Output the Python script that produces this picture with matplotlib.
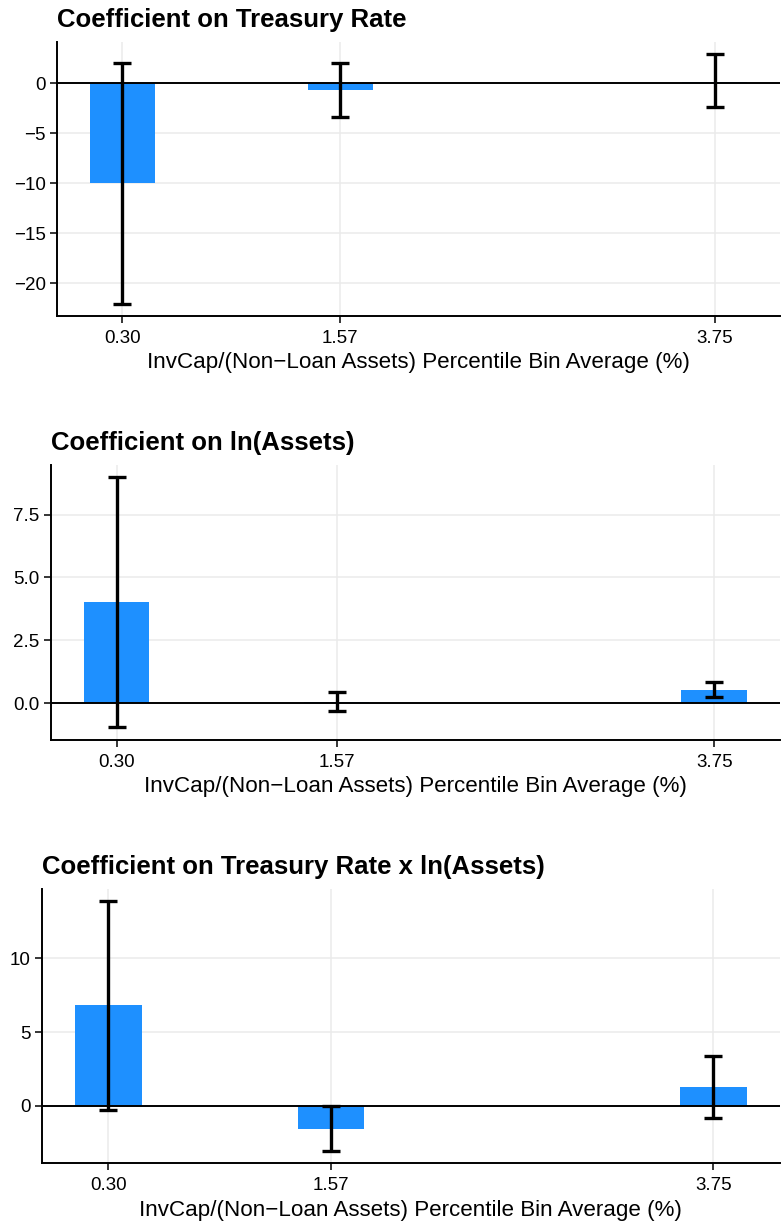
import matplotlib
matplotlib.use("Agg")
import matplotlib.pyplot as plt
import numpy as np

plt.rcParams['font.family'] = ['Liberation Sans', 'DejaVu Sans']

# bin averages (x) and tick labels
bins = [0.30, 1.57, 3.75]
tick_labels = ["0.30", "1.57", "3.75"]
xlab = "InvCap/(Non\u2212Loan Assets) Percentile Bin Average (%)"

titles = ["Coefficient on Treasury Rate",
          "Coefficient on ln(Assets)",
          "Coefficient on Treasury Rate x ln(Assets)"]

# panel 1: Treasury Rate
coef_rate = [-10.0, -0.73, 0.15]
lo_rate = [-22.07, -3.4, -2.4]
hi_rate = [1.97, 2.03, 2.9]

# panel 2: ln(Assets)
coef_assets = [4.03, 0.05, 0.53]
lo_assets = [-0.94, -0.31, 0.26]
hi_assets = [8.98, 0.43, 0.85]

# panel 3: interaction
coef_inter = [6.84, -1.56, 1.27]
lo_inter = [-0.27, -3.05, -0.86]
hi_inter = [13.9, -0.02, 3.37]

yticks = [[0, -5, -10, -15, -20], [0.0, 2.5, 5.0, 7.5], [0, 5, 10]]
yfmt = ["{:g}", "{:.1f}", "{:g}"]
ylims = [(-23.3, 4.1), (-1.45, 9.47), (-3.91, 14.69)]

W, H = 783, 1224
fig = plt.figure(figsize=(W / 100, H / 100), dpi=100)

# axes boxes in pixels: left, top, bottom
boxes = [(57, 42, 316), (50.7, 465, 739.7), (41.7, 889.3, 1163.3)]
right = 780

data = [(coef_rate, lo_rate, hi_rate),
        (coef_assets, lo_assets, hi_assets),
        (coef_inter, lo_inter, hi_inter)]

for i, (coef, lo, hi) in enumerate(data):
    l, t, b = boxes[i]
    ax = fig.add_axes([l / W, 1 - b / H, (right - l) / W, (b - t) / H])
    coef = np.array(coef)
    err = [coef - np.array(lo), np.array(hi) - coef]
    ax.bar(bins, coef, width=0.38, color="#1E90FF", zorder=2)
    ax.axhline(0, color="black", lw=1.4, zorder=3)
    ax.errorbar(bins, coef, yerr=err, fmt="none", ecolor="black",
                elinewidth=2.4, capsize=6.2, capthick=2.4, zorder=4)
    ax.set_xlim(-0.08, 4.13)
    ax.set_ylim(*ylims[i])
    ax.set_xticks(bins)
    ax.set_xticklabels(tick_labels)
    ax.set_yticks(yticks[i])
    ax.set_yticklabels([yfmt[i].format(v).replace("-", "\u2212") for v in yticks[i]])
    ax.grid(True, color="#EBEBEB", lw=1.1, zorder=0)
    ax.set_axisbelow(True)
    for s in ["top", "right"]:
        ax.spines[s].set_visible(False)
    for s in ["left", "bottom"]:
        ax.spines[s].set_linewidth(1.4)
    ax.tick_params(length=5, width=1.1, labelsize=13.5, colors="black")
    ax.tick_params(axis="x", pad=5)
    ax.tick_params(axis="y", pad=3)
    ax.set_xlabel(xlab, fontsize=16.1, labelpad=4)
    ax.set_title(titles[i], loc="left", fontsize=18.5, fontweight="bold", pad=11)

fig.savefig("out.png", dpi=100)
